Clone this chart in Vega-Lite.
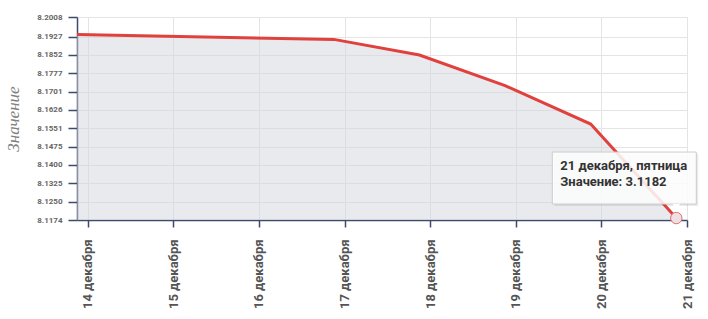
{
  "$schema": "https://vega.github.io/schema/vega-lite/v6.json",
  "width": 610,
  "height": 203,
  "autosize": "none",
  "padding": {"left": 77, "top": 17, "right": 21, "bottom": 99},
  "background": "white",
  "config": {
    "view": {"stroke": null},
    "axis": {
      "domainColor": "#3d4a6b",
      "domainWidth": 1.5,
      "tickColor": "#3d4a6b",
      "tickWidth": 1.5,
      "gridColor": "#e4e4e4",
      "gridWidth": 1
    }
  },
  "data": {
    "values": [
      {"day": 13.875, "value": 8.1936},
      {"day": 16.875, "value": 8.1916},
      {"day": 17.875, "value": 8.1852},
      {"day": 18.875, "value": 8.1726},
      {"day": 19.875, "value": 8.1568},
      {"day": 20.875, "value": 8.1182, "title": "21 декабря, пятница", "label": "Значение: 3.1182"}
    ]
  },
  "encoding": {
    "x": {
      "field": "day",
      "type": "quantitative",
      "scale": {"domain": [13.875, 21], "nice": false, "zero": false},
      "axis": {
        "title": null,
        "values": [14, 15, 16, 17, 18, 19, 20, 21],
        "labelExpr": "datum.value + ' декабря'",
        "labelAngle": -90,
        "labelAlign": "right",
        "labelBaseline": "middle",
        "labelFont": "Roboto",
        "labelFontWeight": "bold",
        "labelFontSize": 13,
        "labelColor": "#555555",
        "labelPadding": 12,
        "tickSize": 7,
        "labelFlush": false,
        "labelOverlap": false
      }
    },
    "y": {
      "field": "value",
      "type": "quantitative",
      "scale": {"domain": [8.1174, 8.2008], "nice": false, "zero": false},
      "axis": {
        "title": "Значение",
        "titleFont": "Liberation Serif",
        "titleFontStyle": "italic",
        "titleFontWeight": "normal",
        "titleFontSize": 17,
        "titleColor": "#808080",
        "titlePadding": 14,
        "values": [8.1174, 8.125, 8.1325, 8.14, 8.1475, 8.1551, 8.1626, 8.1701, 8.1777, 8.1852, 8.1927, 8.2008],
        "format": ".4f",
        "labelFont": "Roboto",
        "labelFontSize": 8,
        "labelFontWeight": "bold",
        "labelColor": "#666666",
        "labelPadding": 6,
        "tickSize": 9,
        "labelFlush": false,
        "labelOverlap": false
      }
    }
  },
  "layer": [
    {"mark": {"type": "area", "color": "#d3d5dd", "opacity": 0.5, "clip": true}},
    {"mark": {"type": "line", "color": "#e0413c", "strokeWidth": 3}},
    {
      "transform": [{"filter": "datum.title"}],
      "mark": {"type": "point", "filled": true, "fill": "#eedfe3", "stroke": "#e46f6f", "strokeWidth": 1, "opacity": 1, "size": 130}
    },
    {
      "transform": [{"filter": "datum.title"}],
      "mark": {"type": "rect", "width": 144, "height": 52, "xOffset": -50, "yOffset": -38, "fill": "#000000", "opacity": 0.08}
    },
    {
      "transform": [{"filter": "datum.title"}],
      "mark": {"type": "rect", "width": 144, "height": 52, "xOffset": -52, "yOffset": -40, "fill": "#ffffff", "fillOpacity": 0.86, "stroke": "#cccccc", "strokeWidth": 1}
    },
    {
      "transform": [{"filter": "datum.title"}],
      "mark": {"type": "point", "shape": "triangle-down", "filled": true, "fill": "#ffffff", "opacity": 0.9, "size": 60, "yOffset": -11}
    },
    {
      "transform": [{"filter": "datum.title"}],
      "mark": {"type": "text", "align": "left", "baseline": "alphabetic", "dx": -116, "dy": -48, "font": "Roboto", "fontWeight": "bold", "fontSize": 13, "color": "#333333"},
      "encoding": {"text": {"field": "title"}}
    },
    {
      "transform": [{"filter": "datum.title"}],
      "mark": {"type": "text", "align": "left", "baseline": "alphabetic", "dx": -116, "dy": -32, "font": "Roboto", "fontWeight": "bold", "fontSize": 13, "color": "#333333"},
      "encoding": {"text": {"field": "label"}}
    }
  ]
}
